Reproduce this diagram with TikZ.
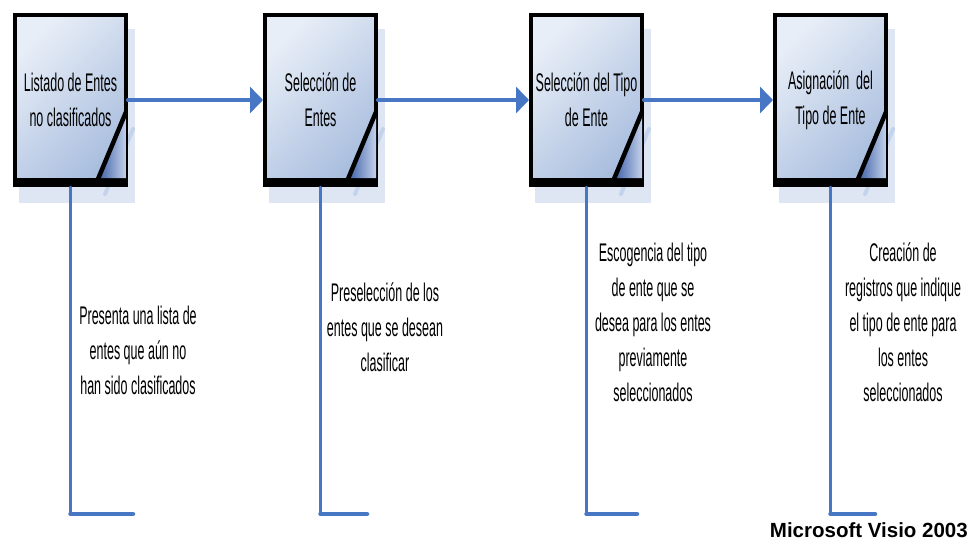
\documentclass[tikz,border=0pt]{standalone}
\usepackage{fontspec}
\setmainfont{Liberation Sans}
\newfontfamily\angosta{Liberation Sans}[FakeStretch=0.49]
\usetikzlibrary{arrows.meta}

\definecolor{azul}{RGB}{70,118,196}
\definecolor{sombraclara}{RGB}{221,230,242}
\definecolor{sombralinea}{RGB}{196,211,236}
\definecolor{cajaclara}{RGB}{232,238,247}
\definecolor{cajaoscura}{RGB}{168,189,222}
\definecolor{esquinaoscura}{RGB}{62,96,168}
\definecolor{esquinaclara}{RGB}{196,209,234}

\tikzset{
  caja/.style={draw=black, line width=4pt, minimum width=111pt, minimum height=170pt,
    left color=cajaclara, right color=cajaoscura, shading angle=45},
  rotulo/.style={font=\angosta\fontsize{25.5}{35}\selectfont, align=center, inner sep=0pt},
  flecha/.style={azul, line width=4pt, -{Triangle[length=13pt,width=26pt]}},
  nota/.style={azul, line width=2.5pt},
  notabase/.style={azul, line width=4.5pt},
  pie/.style={font=\bfseries\fontsize{20.5}{22}\selectfont, inner sep=0pt}
}

% caja con sombra y esquina doblada: #1 nombre, #2 borde izquierdo, #3 texto
\newcommand{\cajaente}[3]{%
  \fill[sombraclara] (#2+6,29) rectangle (#2+122,203);
  \draw[sombralinea, line width=4pt] (#2+120,129) -- (#2+92,194);
  \node[caja] (#1) at (#2+57.5,100) {};
  \fill[black] (#2,178) rectangle (#2+115,187);
  \shade[left color=esquinaoscura, right color=esquinaclara]
    (#2+113,112) -- (#2+113,178) -- (#2+85,178) -- cycle;
  \draw[line width=4.5pt, line cap=butt] (#2+113,112) -- (#2+85,179);
  \node[rotulo] (#1t) at (#1) {#3};
}

\begin{document}
\begin{tikzpicture}[x=1pt, y=-1pt, line cap=round]
  \useasboundingbox (0,0) rectangle (976,547);
  % cajas del proceso
  \cajaente{b1}{13}{Listado de Entes\\no clasificados}
  \cajaente{b2}{263}{Selección de\\Entes}
  \cajaente{b3}{529}{Selección del Tipo\\de Ente}
  \cajaente{b4}{773}{Asignación~ del\\Tipo de Ente}
  % flechas
  \draw[flecha] (b1.east) -- (b2.west);
  \draw[flecha] (b2.east) -- (b3.west);
  \draw[flecha] (b3.east) -- (b4.west);
  % notas
  \coordinate (e1) at (70.5,514);  \coordinate (f1) at (133,514);
  \coordinate (e2) at (320.5,514); \coordinate (f2) at (367,514);
  \coordinate (e3) at (586.5,514); \coordinate (f3) at (637,514);
  \coordinate (e4) at (830.5,514); \coordinate (f4) at (875,514);
  \draw[nota] (b1.south) -- (e1);  \draw[notabase] (e1) -- (f1);
  \draw[nota] (b2.south) -- (e2);  \draw[notabase] (e2) -- (f2);
  \draw[nota] (b3.south) -- (e3);  \draw[notabase] (e3) -- (f3);
  \draw[nota] (b4.south) -- (e4);  \draw[notabase] (e4) -- (f4);
  \node[rotulo] (n1) at (138,350) {Presenta una lista de\\entes que aún no\\han sido clasificados};
  \node[rotulo] (n2) at (385,327) {Preselección de los\\entes que se desean\\clasificar};
  \node[rotulo] (n3) at (653,322) {Escogencia del tipo\\de ente que se\\desea para los entes\\previamente\\seleccionados};
  \node[rotulo] (n4) at (903,322) {Creación de\\registros que indique\\el tipo de ente para\\los entes\\seleccionados};
  % pie
  \node[pie, anchor=base east] (pie) at (968,537) {Microsoft Visio 2003};
\end{tikzpicture}
\end{document}
